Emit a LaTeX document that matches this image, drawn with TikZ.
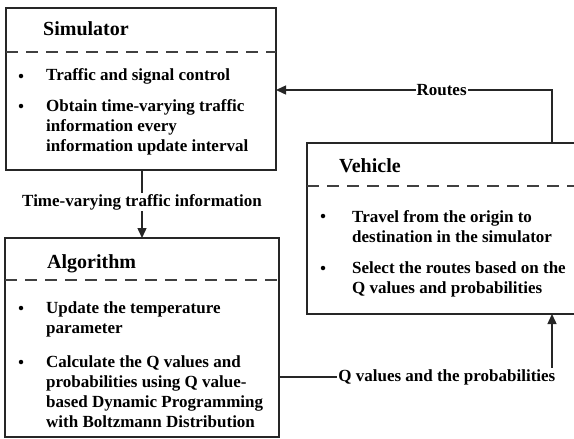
\documentclass[tikz,border=0pt]{standalone}
\usepackage{fontspec}
\setmainfont{Liberation Serif}
\usetikzlibrary{arrows.meta}

% left-aligned block whose baseline is that of its first line
\newcommand{\lines}[1]{\begin{tabular}[t]{@{}l@{}}#1\end{tabular}}

\tikzset{
  panel/.style={draw=black!85, line width=1.4pt},
  divider/.style={draw=black!75, line width=1.8pt, dash pattern=on 12pt off 8pt},
  heading/.style={anchor=base west, inner sep=0pt, font=\bfseries\fontsize{20}{22}\selectfont},
  item/.style={anchor=base west, inner sep=0pt,
               font=\bfseries\fontsize{17}{20.3}\selectfont},
  dot/.style={circle, fill=black, inner sep=0pt, minimum size=4.5pt},
  flow/.style={draw=black!85, line width=1.4pt,
               -{Triangle[length=10pt,width=9pt]}},
  tag/.style={fill=white, inner sep=1pt, font=\bfseries\fontsize{17}{20}\selectfont}
}

\begin{document}
\begin{tikzpicture}[x=1pt, y=-1pt]
\useasboundingbox (0,0) rectangle (574,439);

% Simulator panel
\draw[panel] (6,8) rectangle (276,170);
\coordinate (simS) at (142,170);
\coordinate (simE) at (276,90);
\draw[divider] (6,52) -- (276,52);
\node[heading] (simT) at (43,35) {Simulator};
\node[dot] (simB1) at (21,76) {};
\node[item] (simI1) at (46,81) {\lines{Traffic and signal control}};
\node[dot] (simB2) at (21,106) {};
\node[item] (simI2) at (46,111) {\lines{Obtain time-varying traffic\\information every\\information update interval}};

% Algorithm panel
\draw[panel] (5,238) rectangle (279,437);
\coordinate (algN) at (142,238);
\coordinate (algE) at (279,377);
\draw[divider] (5,280) -- (279,280);
\node[heading] (algT) at (47,268) {Algorithm};
\node[dot] (algB1) at (21,308) {};
\node[item] (algI1) at (46,313) {\lines{Update the temperature\\parameter}};
\node[dot] (algB2) at (21,362) {};
\node[item] (algI2) at (46,367) {\lines{Calculate the Q values and\\probabilities using Q value-\\based Dynamic Programming\\with Boltzmann Distribution}};

% Vehicle panel (runs past the right margin)
\draw[panel] (307,143) rectangle (580,314);
\coordinate (vehN) at (552,143);
\coordinate (vehS) at (552,314);
\draw[divider] (307,186) -- (580,186);
\node[heading] (vehT) at (339,172) {Vehicle};
\node[dot] (vehB1) at (323,216) {};
\node[item] (vehI1) at (352,222) {\lines{Travel from the origin to\\destination in the simulator}};
\node[dot] (vehB2) at (323,268) {};
\node[item] (vehI2) at (352,273) {\lines{Select the routes based on the\\Q values and probabilities}};

% Connectors
\coordinate (rtC) at (552,90);
\draw[flow] (vehN) -- (rtC) -- node[tag, pos=0.4] (rtL) {Routes} (simE);

\draw[flow] (simS) -- node[tag, pos=0.47] (tvL) {Time-varying traffic information} (algN);

\coordinate (qC) at (552,377);
\draw[flow] (algE) -- (qC) -- (vehS);
\node[tag, anchor=east, inner sep=1.5pt] (qL) at (557,377) {Q values and the probabilities};
\end{tikzpicture}
\end{document}
